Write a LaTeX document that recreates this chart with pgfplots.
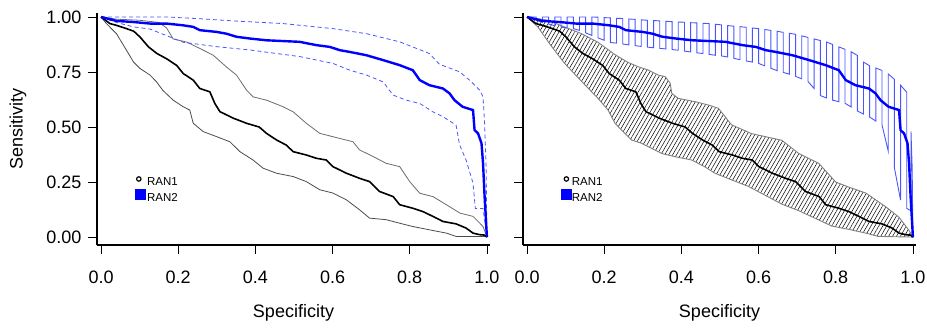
\documentclass[border=0pt]{standalone}
\usepackage{fontspec}
\setmainfont{Liberation Sans}
\usepackage{pgfplots}
\pgfplotsset{compat=1.18}
\usetikzlibrary{patterns.meta}
\definecolor{bandgray}{gray}{0.42}
\definecolor{hgray}{gray}{0.5}
\definecolor{lblue}{RGB}{75,85,255}
\pgfplotsset{rocax/.style={
  scale only axis, width=393pt, height=232pt,
  xmin=-0.0104, xmax=1.008, ymin=-0.036, ymax=1.018,
  axis lines*=left, axis line style={line width=1.6pt, black},
  tick align=outside, major tick length=9pt,
  xtick={0,0.2,0.4,0.6,0.8,1}, xticklabels={0.0,0.2,0.4,0.6,0.8,1.0},
  ytick={0,0.25,0.5,0.75,1},
  tick style={line width=0.8pt, black},
  tick label style={font=\fontsize{18}{18}\selectfont},
  xticklabel style={yshift=-13pt},
  yticklabel style={xshift=-3pt},
  xlabel={Specificity},
  xlabel style={font=\fontsize{18}{18}\selectfont, at={(axis description cs:0.5,-0.293)}, anchor=center},
}}
\begin{document}
\begin{tikzpicture}
% ---------------- left panel ----------------
\begin{axis}[rocax,
  yticklabels={0.00,0.25,0.50,0.75,1.00},
  ylabel={Sensitivity},
  ylabel style={font=\fontsize{18}{18}\selectfont, at={(axis description cs:-0.201,0.5)}, anchor=center},
]
% RAN1 CI upper
\addplot[bandgray, line width=0.8pt] coordinates {(0,1)(0.04,0.99)(0.1,0.985)(0.15,0.975)(0.17,0.95)(0.187,0.90)(0.222,0.886)(0.256,0.857)(0.291,0.826)(0.325,0.773)(0.351,0.736)(0.377,0.668)(0.394,0.637)(0.429,0.622)(0.472,0.592)(0.498,0.569)(0.532,0.517)(0.567,0.471)(0.601,0.456)(0.653,0.433)(0.67,0.396)(0.705,0.366)(0.739,0.335)(0.774,0.32)(0.8,0.252)(0.826,0.199)(0.86,0.184)(0.895,0.147)(0.93,0.109)(0.964,0.094)(0.99,0.048)(1,0)};
% RAN1 CI lower
\addplot[bandgray!70!black, line width=0.8pt] coordinates {(0,1)(0.014,0.97)(0.04,0.924)(0.066,0.849)(0.084,0.796)(0.101,0.766)(0.127,0.736)(0.144,0.705)(0.16,0.667)(0.187,0.622)(0.213,0.592)(0.23,0.577)(0.239,0.517)(0.265,0.479)(0.30,0.456)(0.334,0.433)(0.36,0.388)(0.394,0.35)(0.42,0.313)(0.455,0.29)(0.498,0.275)(0.532,0.252)(0.567,0.215)(0.601,0.20)(0.636,0.169)(0.67,0.124)(0.696,0.086)(0.739,0.079)(0.774,0.063)(0.808,0.048)(0.851,0.033)(0.895,0.018)(0.92,0.003)(1,0.003)};
% RAN2 CI upper (dashed)
\addplot[lblue, line width=0.8pt, dash pattern=on 4pt off 3pt] coordinates {(0,1)(0.17,1.0)(0.256,0.992)(0.343,0.982)(0.472,0.97)(0.601,0.947)(0.688,0.924)(0.774,0.887)(0.851,0.834)(0.877,0.785)(0.929,0.751)(0.955,0.713)(0.981,0.668)(0.99,0.637)(0.994,0.517)(0.998,0.32)(1,0)};
% RAN2 CI lower (dashed)
\addplot[lblue, line width=0.8pt, dash pattern=on 4pt off 3pt] coordinates {(0,1)(0.04,0.975)(0.084,0.955)(0.127,0.945)(0.17,0.915)(0.213,0.885)(0.30,0.865)(0.386,0.85)(0.472,0.83)(0.515,0.82)(0.601,0.789)(0.645,0.758)(0.688,0.736)(0.731,0.705)(0.757,0.645)(0.791,0.622)(0.826,0.607)(0.86,0.569)(0.886,0.547)(0.92,0.509)(0.929,0.42)(0.946,0.35)(0.964,0.245)(0.97,0.13)(0.99,0.13)(1,0)};
% RAN1 ROC
\addplot[black, line width=1.6pt] coordinates {(0,1)(0.023,0.97)(0.04,0.962)(0.066,0.947)(0.085,0.935)(0.101,0.909)(0.123,0.864)(0.145,0.834)(0.17,0.81)(0.196,0.78)(0.213,0.743)(0.239,0.713)(0.256,0.675)(0.282,0.66)(0.295,0.607)(0.308,0.57)(0.343,0.54)(0.377,0.517)(0.41,0.50)(0.429,0.471)(0.455,0.441)(0.48,0.418)(0.498,0.388)(0.532,0.373)(0.558,0.358)(0.584,0.35)(0.601,0.32)(0.636,0.29)(0.67,0.267)(0.696,0.252)(0.722,0.207)(0.757,0.184)(0.774,0.147)(0.808,0.131)(0.834,0.116)(0.86,0.094)(0.886,0.071)(0.92,0.06)(0.946,0.041)(0.964,0.018)(0.981,0.011)(0.994,0.009)(1,0)};
% RAN2 ROC
\addplot[blue, line width=2.4pt] coordinates {(0,1)(0.04,0.982)(0.084,0.977)(0.127,0.97)(0.17,0.97)(0.213,0.962)(0.239,0.955)(0.256,0.94)(0.30,0.932)(0.325,0.924)(0.351,0.91)(0.386,0.902)(0.429,0.894)(0.515,0.887)(0.558,0.872)(0.593,0.864)(0.619,0.849)(0.645,0.841)(0.688,0.826)(0.731,0.804)(0.774,0.781)(0.808,0.758)(0.826,0.713)(0.851,0.69)(0.886,0.675)(0.903,0.653)(0.916,0.622)(0.937,0.592)(0.964,0.577)(0.968,0.486)(0.977,0.471)(0.986,0.426)(0.99,0.335)(0.994,0.184)(1,0)};
% legend
\addplot[only marks, mark=o, mark size=2.2pt, line width=1.2pt, black] coordinates {(0.098,0.264)};
\addplot[only marks, mark=square*, mark size=5pt, blue, line width=0.6pt] coordinates {(0.1023,0.195)};
\node[anchor=west, inner sep=0pt, font=\fontsize{11.5}{11.5}\selectfont] at (axis cs:0.119,0.251) {RAN1};
\node[anchor=west, inner sep=0pt, font=\fontsize{11.5}{11.5}\selectfont] at (axis cs:0.119,0.182) {RAN2};
\end{axis}
% ---------------- right panel ----------------
\begin{axis}[rocax, at={(426pt,0pt)}, yticklabels={}]
% RAN1 CI hatched band
\addplot[draw=hgray, line width=0.9pt, pattern={Lines[angle=60,distance=3.4pt,line width=0.5pt]}, pattern color=black] coordinates {(0,1)(0.054,0.985)(0.097,0.955)(0.14,0.925)(0.184,0.885)(0.227,0.83)(0.26,0.795)(0.288,0.774)(0.314,0.759)(0.34,0.736)(0.358,0.729)(0.371,0.699)(0.375,0.653)(0.392,0.63)(0.436,0.615)(0.47,0.60)(0.496,0.585)(0.53,0.51)(0.582,0.47)(0.66,0.44)(0.704,0.38)(0.756,0.335)(0.80,0.25)(0.834,0.227)(0.878,0.2)(0.93,0.137)(0.964,0.09)(0.99,0.03)(1,0)
(0.91,0.003)(0.878,0.018)(0.834,0.035)(0.79,0.05)(0.747,0.085)(0.704,0.12)(0.66,0.15)(0.617,0.19)(0.574,0.23)(0.53,0.26)(0.487,0.29)(0.46,0.32)(0.427,0.35)(0.384,0.365)(0.349,0.38)(0.332,0.395)(0.297,0.426)(0.271,0.441)(0.245,0.486)(0.228,0.517)(0.21,0.577)(0.184,0.63)(0.14,0.71)(0.097,0.79)(0.062,0.87)(0.028,0.955)(0,1)};
% RAN2 CI bars
\addplot[lblue, line width=0.9pt] coordinates {(0,1)(0.008,0.995)(0.008,1.0)(0.024,1.0)(0.024,0.985)(0.040,0.975)(0.040,1.0)(0.056,1.0)(0.056,0.968)(0.072,0.960)(0.072,1.0)(0.088,1.0)(0.088,0.954)(0.104,0.950)(0.104,1.0)(0.120,1.0)(0.120,0.947)(0.136,0.939)(0.136,1.0)(0.152,1.0)(0.152,0.928)(0.168,0.916)(0.168,1.0)(0.184,0.999)(0.184,0.905)(0.200,0.894)(0.200,0.997)(0.216,0.996)(0.216,0.884)(0.232,0.881)(0.232,0.994)(0.248,0.993)(0.248,0.877)(0.264,0.873)(0.264,0.991)(0.280,0.989)(0.280,0.870)(0.296,0.866)(0.296,0.987)(0.312,0.985)(0.312,0.863)(0.328,0.860)(0.328,0.984)(0.344,0.982)(0.344,0.857)(0.360,0.855)(0.360,0.980)(0.376,0.979)(0.376,0.852)(0.392,0.849)(0.392,0.977)(0.408,0.976)(0.408,0.845)(0.424,0.841)(0.424,0.974)(0.440,0.973)(0.440,0.837)(0.456,0.834)(0.456,0.971)(0.472,0.970)(0.472,0.830)(0.488,0.826)(0.488,0.967)(0.504,0.964)(0.504,0.823)(0.520,0.818)(0.520,0.961)(0.536,0.958)(0.536,0.812)(0.552,0.806)(0.552,0.956)(0.568,0.953)(0.568,0.800)(0.584,0.795)(0.584,0.950)(0.600,0.947)(0.600,0.789)(0.616,0.778)(0.616,0.943)(0.632,0.939)(0.632,0.767)(0.648,0.756)(0.648,0.935)(0.664,0.930)(0.664,0.748)(0.680,0.740)(0.680,0.926)(0.696,0.921)(0.696,0.730)(0.712,0.719)(0.712,0.914)(0.728,0.907)(0.728,0.707)(0.744,0.675)(0.744,0.900)(0.760,0.893)(0.760,0.643)(0.776,0.632)(0.776,0.886)(0.792,0.875)(0.792,0.622)(0.808,0.615)(0.808,0.864)(0.824,0.853)(0.824,0.608)(0.840,0.591)(0.840,0.842)(0.856,0.825)(0.856,0.573)(0.872,0.559)(0.872,0.795)(0.888,0.778)(0.888,0.545)(0.904,0.527)(0.904,0.768)(0.920,0.757)(0.920,0.509)(0.936,0.391)(0.936,0.741)(0.952,0.717)(0.952,0.315)(0.968,0.168)(0.968,0.690)(0.984,0.658)(0.984,0.130)(0.995,0.120)(0.995,0.48)(0.998,0.32)(1,0)};
% RAN1 ROC
\addplot[black, line width=1.6pt] coordinates {(0,1)(0.023,0.97)(0.04,0.962)(0.066,0.947)(0.085,0.935)(0.101,0.909)(0.123,0.864)(0.145,0.834)(0.17,0.81)(0.196,0.78)(0.213,0.743)(0.239,0.713)(0.256,0.675)(0.282,0.66)(0.295,0.607)(0.308,0.57)(0.343,0.54)(0.377,0.517)(0.41,0.50)(0.429,0.471)(0.455,0.441)(0.48,0.418)(0.498,0.388)(0.532,0.373)(0.558,0.358)(0.584,0.35)(0.601,0.32)(0.636,0.29)(0.67,0.267)(0.696,0.252)(0.722,0.207)(0.757,0.184)(0.774,0.147)(0.808,0.131)(0.834,0.116)(0.86,0.094)(0.886,0.071)(0.92,0.06)(0.946,0.041)(0.964,0.018)(0.981,0.011)(0.994,0.009)(1,0)};
% RAN2 ROC
\addplot[blue, line width=2.4pt] coordinates {(0,1)(0.04,0.982)(0.084,0.977)(0.127,0.97)(0.17,0.97)(0.213,0.962)(0.239,0.955)(0.256,0.94)(0.30,0.932)(0.325,0.924)(0.351,0.91)(0.386,0.902)(0.429,0.894)(0.515,0.887)(0.558,0.872)(0.593,0.864)(0.619,0.849)(0.645,0.841)(0.688,0.826)(0.731,0.804)(0.774,0.781)(0.808,0.758)(0.826,0.713)(0.851,0.69)(0.886,0.675)(0.903,0.653)(0.916,0.622)(0.937,0.592)(0.964,0.577)(0.968,0.486)(0.977,0.471)(0.986,0.426)(0.99,0.335)(0.994,0.184)(1,0)};
% legend
\addplot[only marks, mark=o, mark size=2.2pt, line width=1.2pt, black] coordinates {(0.102,0.264)};
\addplot[only marks, mark=square*, mark size=5pt, blue, line width=0.6pt] coordinates {(0.1013,0.195)};
\node[anchor=west, inner sep=0pt, font=\fontsize{11.5}{11.5}\selectfont] at (axis cs:0.1156,0.251) {RAN1};
\node[anchor=west, inner sep=0pt, font=\fontsize{11.5}{11.5}\selectfont] at (axis cs:0.1156,0.182) {RAN2};
\end{axis}
\pgfresetboundingbox
\path[use as bounding box] (-97pt,-82pt) rectangle (830pt,245pt);
\end{tikzpicture}
\end{document}
